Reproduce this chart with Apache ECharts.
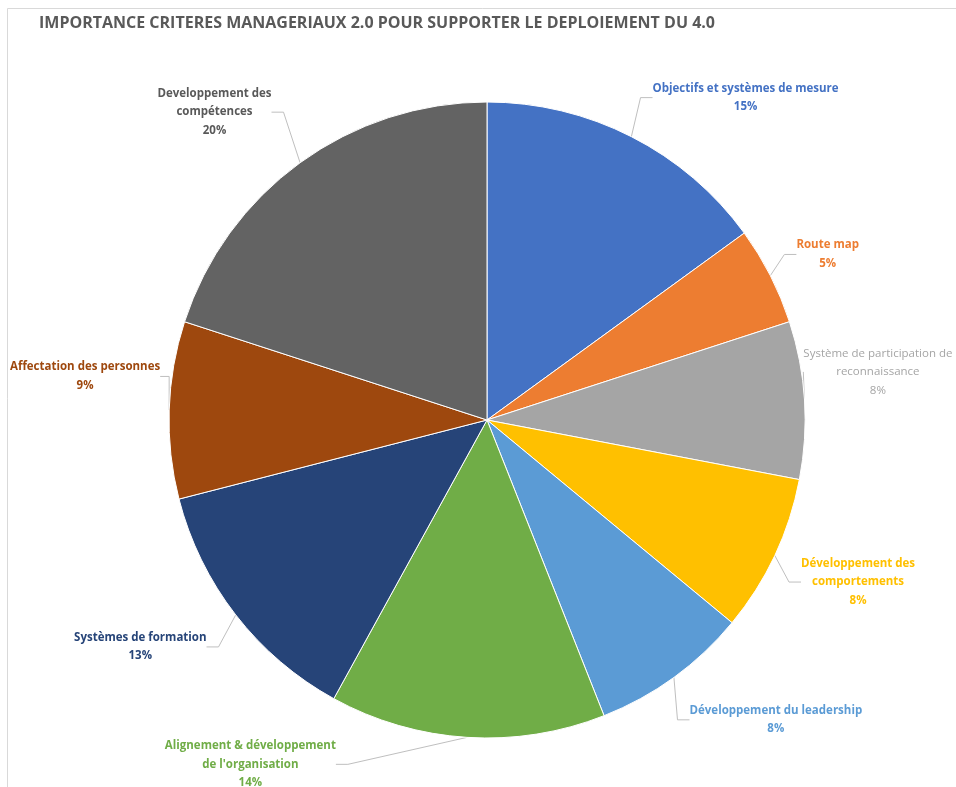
<!DOCTYPE html>
<html>
<head>
<meta charset="utf-8">
<script src="https://cdn.jsdelivr.net/npm/echarts@6/dist/echarts.min.js"></script>
<style>
  html, body { margin: 0; padding: 0; background: #fff; }
  #chart { width: 956px; height: 787px; }
</style>
</head>
<body>
<div id="chart"></div>
<script>
// critères, dans le sens horaire depuis midi
var categories = [
    'Objectifs et systèmes de mesure',
    'Route map',
    'Système de participation de\nreconnaissance',
    'Développement des\ncomportements',
    'Développement du leadership',
    'Alignement & développement\nde l\'organisation',
    'Systèmes de formation',
    'Affectation des personnes',
    'Developpement des\ncompétences'
];
var values = [15, 5, 8, 8, 8, 14, 13, 9, 20];
var colors = ['#4472C4', '#ED7D31', '#A5A5A5', '#FFC000', '#5B9BD5',
              '#70AD47', '#264478', '#9E480E', '#636363'];
var labelColors = ['#4472C4', '#ED7D31', '#A5A5A5', '#FFC000', '#5B9BD5',
                   '#70AD47', '#264478', '#9E480E', '#595959'];
// décalage des étiquettes (px) par rapport à la position par défaut
var labelShift = [[-4, -23], [-7, -13], [-36, -27], [-7, 19], [-12, 28],
                  [-113, 9], [2, 21], [26, -33], [-1, -36]];

var data = categories.map(function (c, i) {
    return {
        name: c,
        value: values[i],
        itemStyle: { color: colors[i] },
        label: { color: labelColors[i], fontWeight: i === 2 ? 'normal' : 'bold' }
    };
});

var option = {
    backgroundColor: '#fff',
    graphic: [{
        type: 'rect',
        shape: { x: 7.5, y: 8.5, width: 1000, height: 1000 },
        style: { fill: 'none', stroke: '#D9D9D9', lineWidth: 1 },
        silent: true
    }],
    title: {
        text: 'IMPORTANCE CRITERES MANAGERIAUX 2.0 POUR SUPPORTER LE DEPLOIEMENT DU 4.0',
        left: 34,
        top: 10,
        textStyle: {
            fontFamily: 'Open Sans',
            fontSize: 16,
            fontWeight: 'bold',
            color: '#595959'
        }
    },
    series: [
        {
            name: 'critères',
            type: 'pie',
            center: [487, 420],
            radius: 318,
            startAngle: 90,
            clockwise: true,
            itemStyle: { borderColor: '#fff', borderWidth: 1 },
            label: {
                show: true,
                position: 'outside',
                formatter: '{b}\n{d}%',
                fontFamily: 'Open Sans',
                fontSize: 11.5,
                fontWeight: 'bold',
                lineHeight: 18.5,
                overflow: 'none'
            },
            labelLine: {
                show: true,
                length: 18,
                length2: 12,
                lineStyle: { color: '#BFBFBF', width: 1 }
            },
            labelLayout: function (params) {
                var r = params.labelRect;
                var s = labelShift[params.dataIndex];
                return {
                    x: r.x + r.width / 2 + s[0],
                    y: r.y + r.height / 2 + s[1],
                    align: 'center',
                    verticalAlign: 'middle'
                };
            },
            data: data
        }
    ]
};
var myChart = echarts.init(document.getElementById('chart'));
myChart.setOption(option, true);
</script>
</body>
</html>
